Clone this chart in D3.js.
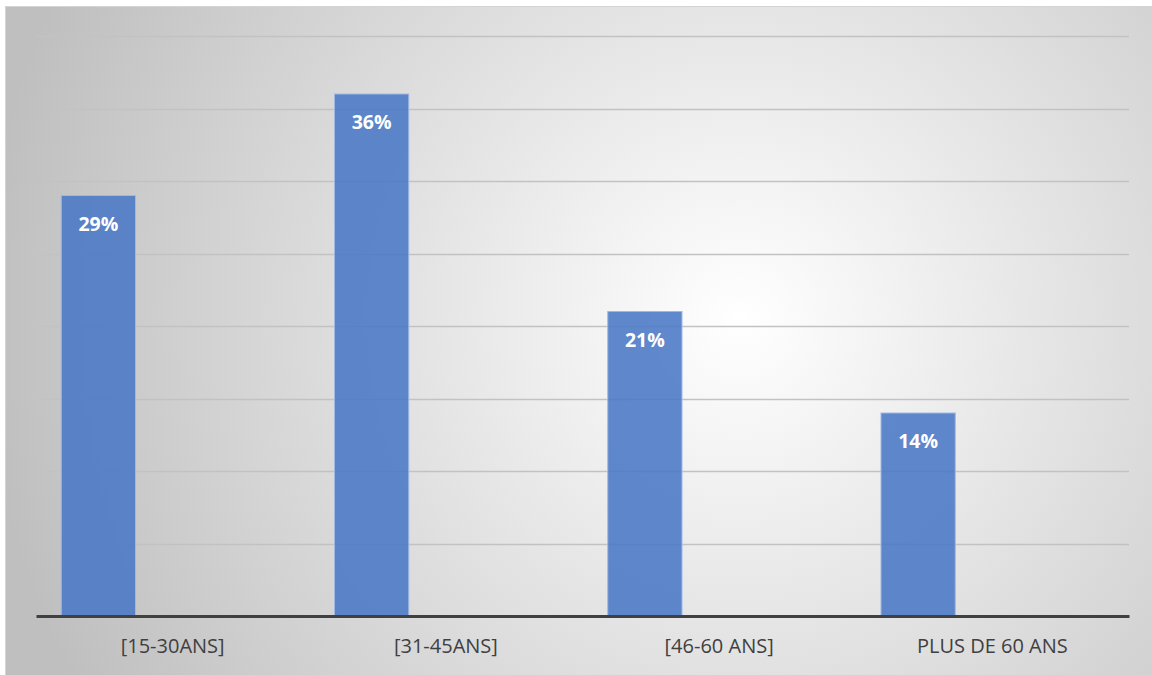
<!DOCTYPE html>
<html>
<head>
<meta charset="utf-8">
<script src="https://cdn.jsdelivr.net/npm/d3@7"></script>
<style>
  body { margin: 0; background: #ffffff; }
  svg { display: block; }
</style>
</head>
<body>
<div id="chart"></div>
<script>
const categories = ["[15-30ANS]", "[31-45ANS]", "[46-60 ANS]", "PLUS DE 60 ANS"];
const values = [29, 36, 21, 14];
const series = ["s1", "s2", "s3"]; // only the first series carries values
const yTicks = [0, 5, 10, 15, 20, 25, 30, 35, 40];

const W = 1152, H = 675;
const plot = { left: 36, right: 1129, top: 36, bottom: 616 };

const svg = d3.select("#chart").append("svg")
  .attr("width", W)
  .attr("height", H);

const defs = svg.append("defs");
const grad = defs.append("radialGradient")
  .attr("id", "bg")
  .attr("gradientUnits", "userSpaceOnUse")
  .attr("cx", 740).attr("cy", 320).attr("r", 760);
grad.append("stop").attr("offset", "0%").attr("stop-color", "#ffffff");
grad.append("stop").attr("offset", "100%").attr("stop-color", "#bfbfbf");

svg.append("rect")
  .attr("x", 5.5).attr("y", 6.5)
  .attr("width", W).attr("height", H)
  .attr("fill", "url(#bg)")
  .attr("stroke", "#d4d4d4")
  .attr("stroke-width", 1);

const x = d3.scaleBand()
  .domain(categories)
  .range([plot.left, plot.right]);

const xInner = d3.scaleBand()
  .domain(series)
  .range([0, x.bandwidth()])
  .paddingInner(0)
  .paddingOuter(0.34);

const y = d3.scaleLinear()
  .domain([0, 40])
  .range([plot.bottom, plot.top]);

// gridlines
svg.append("g")
  .selectAll("line")
  .data(yTicks.slice(1))
  .join("line")
  .attr("x1", plot.left)
  .attr("x2", plot.right)
  .attr("y1", d => Math.round(y(d)) + 0.5)
  .attr("y2", d => Math.round(y(d)) + 0.5)
  .attr("stroke", "#c2c2c2")
  .attr("stroke-width", 1.5);

// bars
svg.append("g")
  .selectAll("rect")
  .data(values)
  .join("rect")
  .attr("x", (d, i) => x(categories[i]) + xInner("s1"))
  .attr("y", d => y(d))
  .attr("width", xInner.bandwidth())
  .attr("height", d => plot.bottom - y(d))
  .attr("fill", "#4a78c6")
  .attr("fill-opacity", 0.88)
  .attr("stroke", "#9fb8e2")
  .attr("stroke-width", 1);

// data labels
svg.append("g")
  .selectAll("text")
  .data(values)
  .join("text")
  .attr("x", (d, i) => x(categories[i]) + xInner("s1") + xInner.bandwidth() / 2)
  .attr("y", d => y(d) + 35)
  .attr("text-anchor", "middle")
  .attr("font-family", "'Open Sans', sans-serif")
  .attr("font-weight", "bold")
  .attr("font-size", "19.5px")
  .attr("fill", "#ffffff")
  .text(d => d + "%");

// x axis
const xAxis = svg.append("g")
  .attr("transform", `translate(0, ${plot.bottom})`)
  .call(d3.axisBottom(x).tickSize(0).tickPadding(23));
xAxis.select(".domain")
  .attr("stroke", "#404040")
  .attr("stroke-width", 3);
xAxis.selectAll("text")
  .attr("font-family", "'Open Sans', sans-serif")
  .attr("font-size", "20px")
  .attr("fill", "#404040");
</script>
</body>
</html>
